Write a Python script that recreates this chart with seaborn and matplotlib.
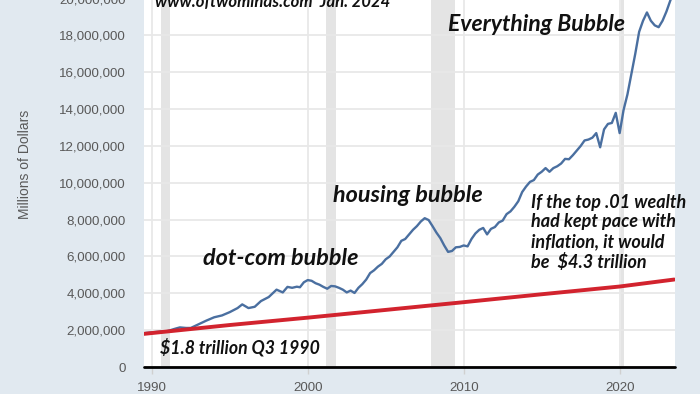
import matplotlib
matplotlib.use("Agg")
import matplotlib.pyplot as plt
import numpy as np
import pandas as pd
import seaborn as sns
from matplotlib.ticker import FuncFormatter

# ---- data (values in trillions of dollars = millions of millions) ----
top_years = [1989.5, 1990.0, 1990.5, 1991.0, 1991.5, 1991.8, 1992.2, 1992.5, 1993.0, 1993.5,
             1994.0, 1994.5, 1995.0, 1995.5, 1995.8, 1996.2, 1996.6, 1997.0, 1997.5, 1998.0,
             1998.4, 1998.7, 1999.0, 1999.3, 1999.5, 1999.75, 2000.0, 2000.25, 2000.5, 2000.75,
             2001.0, 2001.25, 2001.5, 2001.75, 2002.0, 2002.25, 2002.5, 2002.75, 2003.0, 2003.25,
             2003.5, 2003.75, 2004.0, 2004.25, 2004.5, 2004.75, 2005.0, 2005.25, 2005.5, 2005.75,
             2006.0, 2006.25, 2006.5, 2006.75, 2007.0, 2007.25, 2007.5, 2007.75, 2008.0, 2008.25,
             2008.5, 2008.75, 2009.0, 2009.25, 2009.5, 2009.75, 2010.0, 2010.25, 2010.5, 2010.75,
             2011.0, 2011.25, 2011.5, 2011.75, 2012.0, 2012.25, 2012.5, 2012.75, 2013.0, 2013.25,
             2013.5, 2013.75, 2014.0, 2014.25, 2014.5, 2014.75, 2015.0, 2015.25, 2015.5, 2015.75,
             2016.0, 2016.25, 2016.5, 2016.75, 2017.0, 2017.25, 2017.5, 2017.75, 2018.0, 2018.25,
             2018.5, 2018.75, 2019.0, 2019.25, 2019.5, 2019.75, 2020.0, 2020.25, 2020.5, 2020.75,
             2021.0, 2021.25, 2021.5, 2021.75, 2022.0, 2022.25, 2022.5, 2022.75, 2023.0, 2023.25,
             2023.5]
top_wealth = [1.84, 1.88, 1.92, 1.95, 2.08, 2.15, 2.12, 2.12, 2.32, 2.52,
              2.70, 2.80, 2.98, 3.20, 3.40, 3.20, 3.27, 3.58, 3.80, 4.20,
              4.05, 4.35, 4.30, 4.36, 4.33, 4.60, 4.72, 4.68, 4.55, 4.47,
              4.35, 4.25, 4.40, 4.38, 4.30, 4.20, 4.05, 4.15, 4.02, 4.30,
              4.50, 4.75, 5.10, 5.25, 5.45, 5.60, 5.85, 6.00, 6.25, 6.50,
              6.85, 6.95, 7.20, 7.45, 7.65, 7.90, 8.08, 7.98, 7.65, 7.30,
              7.00, 6.60, 6.25, 6.30, 6.50, 6.52, 6.60, 6.55, 6.95, 7.25,
              7.45, 7.55, 7.20, 7.50, 7.60, 7.85, 7.95, 8.30, 8.45, 8.70,
              9.00, 9.50, 9.80, 10.05, 10.15, 10.45, 10.60, 10.80, 10.60, 10.80,
              10.90, 11.05, 11.30, 11.28, 11.50, 11.75, 12.00, 12.30, 12.35, 12.45,
              12.70, 11.93, 12.90, 13.20, 13.25, 13.80, 12.70, 13.95, 14.80, 15.90,
              17.00, 18.20, 18.80, 19.25, 18.80, 18.55, 18.45, 18.80, 19.30, 19.90,
              20.40]

infl_years = [1989.5, 1995.0, 2000.0, 2005.0, 2010.0, 2015.0, 2020.0, 2023.5]
infl_wealth = [1.80, 2.28, 2.68, 3.10, 3.52, 3.95, 4.37, 4.75]

recession_starts = [1990.58, 2001.17, 2007.92, 2020.08]
recession_ends = [1991.17, 2001.83, 2009.42, 2020.28]

x_ticks = [1990, 2000, 2010, 2020]
y_ticks = [0, 2e6, 4e6, 6e6, 8e6, 10e6, 12e6, 14e6, 16e6, 18e6, 20e6]

y_label = "Millions of Dollars"
source_text = "www.oftwominds.com  Jan. 2024"
labels = ["Everything Bubble", "housing bubble", "dot-com bubble", "$1.8 trillion Q3 1990"]
note_text = "If the top .01 wealth\nhad kept pace with\ninflation, it would\nbe  $4.3 trillion"

# ---- build frames ----
df_top = pd.DataFrame({"date": top_years, "value": np.array(top_wealth) * 1e6})
df_inf = pd.DataFrame({"date": infl_years, "value": np.array(infl_wealth) * 1e6})

sns.set_theme(style="white")
plt.rcParams["font.family"] = ["Liberation Sans", "DejaVu Sans"]

BG = "#e1e9f0"
fig = plt.figure(figsize=(7.0, 3.94), dpi=100, facecolor=BG)
ax = fig.add_axes([0.2057, 0.0685, 0.7586, 0.9817])
ax.set_facecolor("white")

for a, b in zip(recession_starts, recession_ends):
    ax.axvspan(a, b, color="#e4e4e4", lw=0, zorder=0.5)

ax.grid(True, color="#e8e8e8", lw=1.3)
ax.set_axisbelow(True)

sns.lineplot(data=df_top, x="date", y="value", color="#4a6fa0", lw=1.7, ax=ax, zorder=3)
sns.lineplot(data=df_inf, x="date", y="value", color="#d2232e", lw=2.8, ax=ax, zorder=4)

ax.axhline(0, color="black", lw=2.0, zorder=5, clip_on=False)

ax.set_xlim(1989.5, 2023.55)
ax.set_ylim(0, 21e6)
ax.set_xticks(x_ticks)
ax.set_yticks(y_ticks)
ax.yaxis.set_major_formatter(FuncFormatter(lambda v, p: f"{int(v):,}"))
ax.tick_params(axis="y", length=0, pad=13, labelsize=9.6, labelcolor="#595959")
ax.tick_params(axis="x", length=5, width=1, color="#d0d0d0", pad=5.5, labelsize=9.6,
               labelcolor="#595959", bottom=True)
for s in ax.spines.values():
    s.set_visible(False)
ax.set_xlabel("")
ax.set_ylabel("")

fig.text(25 / 700, 1 - 164 / 394, y_label, rotation=90, ha="center", va="center",
         fontsize=10, color="#595959")

tfont = dict(family=["Lato", "DejaVu Sans"], style="italic", weight="bold", color="#111111")
ax.text(1990.2, 19.55e6, source_text, fontsize=12, va="baseline", ha="left", **tfont)
ax.text(2009.0, 18.24e6, labels[0], fontsize=16.5, va="baseline", ha="left", **tfont)
ax.text(2001.65, 8.97e6, labels[1], fontsize=16.8, va="baseline", ha="left", **tfont)
ax.text(1993.3, 5.54e6, labels[2], fontsize=16.8, va="baseline", ha="left", **tfont)
ax.text(1990.55, 0.74e6, labels[3], fontsize=12.7, va="baseline", ha="left", **tfont)
ax.text(2014.3, 5.36e6, note_text, fontsize=13, va="baseline", ha="left", linespacing=1.2, **tfont)

fig.savefig("out.png", dpi=100, facecolor=BG)
